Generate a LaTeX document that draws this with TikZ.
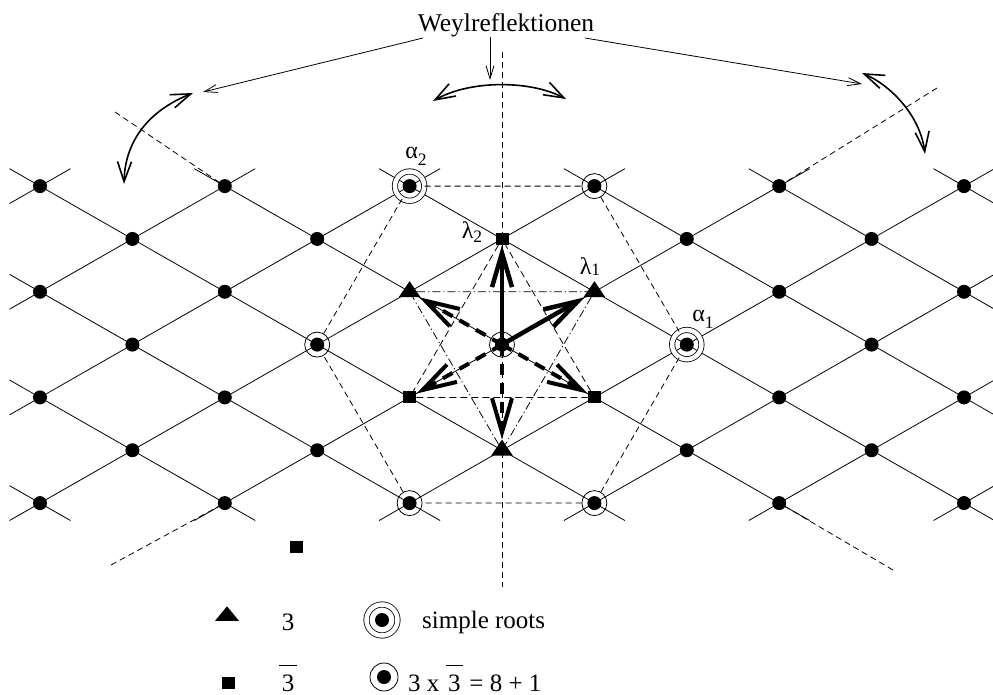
\documentclass[tikz,border=0pt]{standalone}
\usepackage{fontspec}
\setmainfont{Liberation Serif}
\usetikzlibrary{arrows.meta,shapes.geometric}
\newcommand\mygr{\fontsize{24}{28}\selectfont}
\newcommand\myal{\fontsize{24}{28}\selectfont}
\newcommand\mysb{\fontsize{17.5}{20}\selectfont}
\newcommand\myovl[1]{\setbox0=\hbox{#1}\vbox{\hrule height 1.1pt width \dimexpr\wd0+5pt\relax\kern 8pt\hbox to \dimexpr\wd0+5pt\relax{\hss\box0\hss}}}
\begin{document}
\begin{tikzpicture}[x=1pt,y=-1pt,
  latline/.style={line width=0.8pt},
  thindash/.style={line width=0.8pt, dash pattern=on 6pt off 4pt},
  sqdash/.style={line width=0.8pt, dash pattern=on 7pt off 4pt},
  dashdot/.style={line width=0.8pt, dash pattern=on 8pt off 3pt on 1.2pt off 3pt},
  dot/.style={circle, fill, inner sep=0pt, minimum size=14pt},
  ringone/.style={circle, draw, line width=0.8pt, inner sep=0pt, minimum size=25pt},
  ringtwo/.style={circle, draw, line width=0.8pt, double, double distance=4.5pt, inner sep=0pt, minimum size=29.3pt},
  sqnode/.style={rectangle, fill, inner sep=0pt, minimum width=13pt, minimum height=12pt},
  trinode/.style={regular polygon, regular polygon sides=3, fill, inner sep=0pt, minimum size=25pt, yscale=0.85},
  legtri/.style={regular polygon, regular polygon sides=3, fill, inner sep=0pt, minimum size=27.7pt, yscale=0.7},
  thickarrow/.style={line width=4.5pt, -{Straight Barb[length=34pt,width=20pt]}},
  thickdash/.style={line width=4pt, dash pattern=on 11pt off 8pt, -{Straight Barb[length=34pt,width=20pt]}},
  pointer/.style={line width=0.8pt, -{Straight Barb[length=13pt,width=8pt]}},
  swing/.style={line width=1.6pt, {Straight Barb[length=20pt,width=14pt]}-{Straight Barb[length=20pt,width=14pt]}},
  txt/.style={inner sep=0pt, font=\fontsize{25}{30}\selectfont},
  glab/.style={inner sep=0pt, anchor=base},
]
\useasboundingbox (0,0) rectangle (993,695);

% vertical mirror axis
\coordinate (vtop) at (502,52);
\coordinate (vbot) at (502,587);

\begin{scope}[shift={(502pt,-344.6pt)}, x={(92.4pt,0pt)}, y={(0pt,52.83pt)}]
  % lattice lines
  \foreach \cc in {-8,-6,...,8}{
    \pgfmathsetmacro{\ja}{max(-3,-5-(\cc))}
    \pgfmathsetmacro{\jb}{min(3,5-(\cc))}
    \draw[latline] ({(\cc)+(\ja)-0.33},{(\ja)-0.33}) -- ({(\cc)+(\jb)+0.33},{(\jb)+0.33});
    \pgfmathsetmacro{\jc}{max(-3,(\cc)-5)}
    \pgfmathsetmacro{\jd}{min(3,(\cc)+5)}
    \draw[latline] ({(\cc)-(\jd)-0.33},{(\jd)+0.33}) -- ({(\cc)-(\jc)+0.33},{(\jc)-0.33});
  }
\end{scope}

\draw[thindash] (vtop) -- (vbot);

\begin{scope}[shift={(502pt,-344.6pt)}, x={(92.4pt,0pt)}, y={(0pt,52.83pt)}]
  % rings around the roots and the origin
  \node[ringone] (c0) at (0,0) {};
  \node[ringtwo] (a1) at (2,0) {};
  \node[ringtwo] (a2) at (-1,3) {};
  \node[ringone] (r60) at (1,3) {};
  \node[ringone] (r180) at (-2,0) {};
  \node[ringone] (r240) at (-1,-3) {};
  \node[ringone] (r300) at (1,-3) {};
  % lattice dots
  \foreach \ki in {-5,...,5}{
    \foreach \ji in {-3,...,3}{
      \pgfmathtruncatemacro{\ev}{mod(abs((\ki)+(\ji)),2)}
      \pgfmathtruncatemacro{\wt}{(abs(\ki)<2)*(abs(\ji)<3)*(1-(\ki==0)*(\ji==0))}
      \pgfmathtruncatemacro{\kk}{\ki+5}
      \pgfmathtruncatemacro{\jj}{\ji+3}
      \ifnum\ev=0 \ifnum\wt=0 \node[dot] (n\kk-\jj) at (\ki,\ji) {}; \fi\fi
    }
  }
  % weights of 3 and 3bar
  \node[sqnode] (lam2) at (0,2) {};
  \node[sqnode] (sqL) at (-1,-1) {};
  \node[sqnode] (sqR) at (1,-1) {};
  \node[trinode] (lam1) at (1,1) {};
  \node[trinode] (triL) at (-1,1) {};
  \node[trinode] (triB) at (0,-2) {};
\end{scope}

% helper polygons
\draw[thindash] (a2) -- (r60) -- (a1) -- (r300) -- (r240) -- (r180) -- (a2);
\draw[sqdash] (lam2) -- (sqL) -- (sqR) -- (lam2);
\draw[dashdot] (triL) -- (lam1) -- (triB) -- (triL);

% diagonal mirror axes
\coordinate (mtl) at (115,112);
\coordinate (mtr) at (937,88);
\coordinate (mbl) at (111,565);
\coordinate (mbr) at (893,570);
\draw[thindash] (mtl) -- (n2-6);
\draw[thindash] (mtr) -- (n8-6);
\draw[thindash] (mbl) -- (n2-0);
\draw[thindash] (mbr) -- (n8-0);

% weight vectors
\draw[thickarrow] (n5-3.center) -- (lam2);
\draw[thickarrow] (n5-3.center) -- (lam1);
\draw[thickdash] (n5-3.center) -- (triL);
\draw[thickdash] (n5-3.center) -- (sqL);
\draw[thickdash] (n5-3.center) -- (sqR);
\draw[thickdash] (n5-3.center) -- (triB);

% labels
\node[glab] (lbl2) at (472,239) {{\mygr λ}\lower4pt\hbox{\mysb 2}};
\node[glab] (lbl1) at (590,274) {{\mygr λ}\lower1pt\hbox{\mysb 1}};
\node[glab] (lba1) at (703,321) {{\myal α}\lower7pt\hbox{\mysb 1}};
\node[glab] (lba2) at (416,159) {{\myal α}\lower7pt\hbox{\mysb 2}};

% Weyl reflections
\node[inner sep=0pt, anchor=base, font=\fontsize{25.5}{30}\selectfont] (weyl) at (506,31.5) {Weylreflektionen};
\coordinate (wl1) at (423,38);
\coordinate (wl2) at (203,92);
\coordinate (wm1) at (490,37);
\coordinate (wm2) at (490,80);
\coordinate (wr1) at (585,38);
\coordinate (wr2) at (862,84);
\draw[pointer] (wl1) -- (wl2);
\draw[pointer] (wm1) -- (wm2);
\draw[pointer] (wr1) -- (wr2);

\coordinate (sl1) at (193,93);
\coordinate (sl2) at (124,184);
\coordinate (sm1) at (433,101);
\coordinate (sm2) at (566,99);
\coordinate (sr1) at (862,73);
\coordinate (sr2) at (925,154);
\draw[swing] (sl1) .. controls (150,110) and (125,140) .. (sl2);
\draw[swing] (sm1) .. controls (470,80) and (530,80) .. (sm2);
\draw[swing] (sr1) .. controls (890,85) and (920,115) .. (sr2);

% legend
\node[sqnode] (legsq0) at (296,547) {};
\node[legtri] (legt) at (227,616) {};
\node[txt, anchor=base] (leg3) at (288,630) {3};
\node[ringtwo, minimum size=31pt] (legr2) at (382,620) {};
\node[dot] (legd2) at (382,620) {};
\node[txt, anchor=base west] (legsr) at (422,628) {simple roots};
\node[sqnode] (legsq) at (228,683) {};
\node[txt, anchor=base] (leg3b) at (288,691) {\myovl{3}};
\node[ringone, minimum size=28pt] (legr1) at (384,677) {};
\node[dot] (legd1) at (384,677) {};
\node[txt, anchor=base west] (legeq) at (408,691) {3 x \myovl{3} = 8 + 1};
\end{tikzpicture}
\end{document}
